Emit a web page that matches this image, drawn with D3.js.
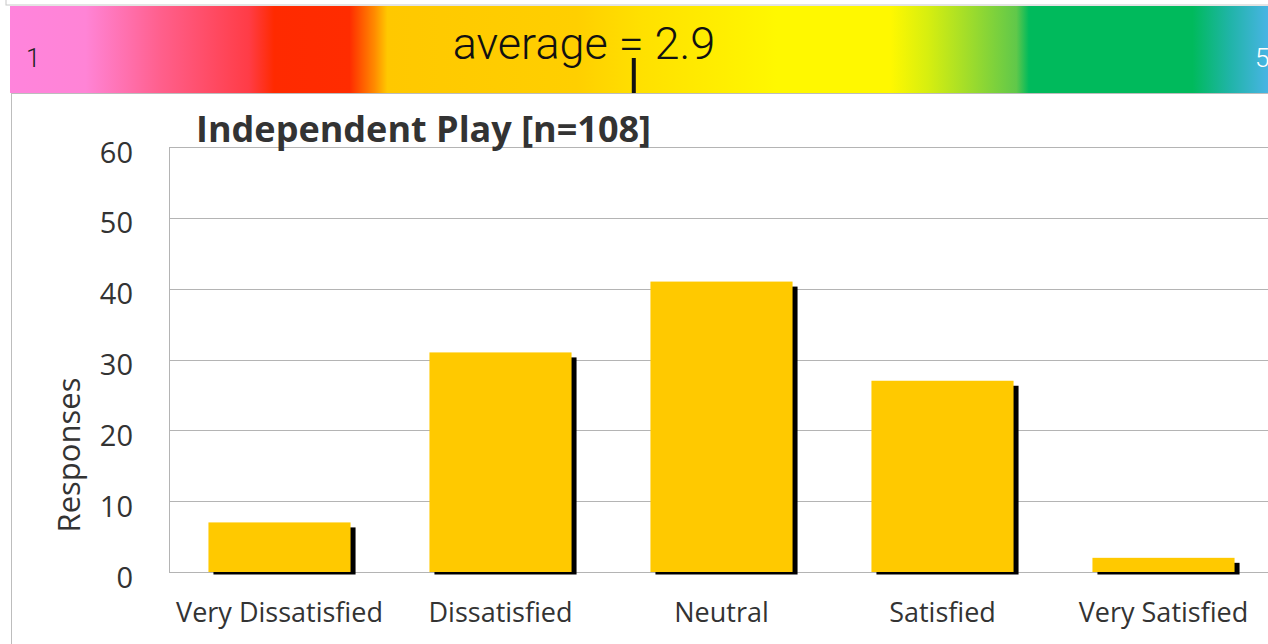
<!DOCTYPE html>
<html>
<head>
<meta charset="utf-8">
<script src="https://cdn.jsdelivr.net/npm/d3@7"></script>
<style>
  body { margin: 0; background: #fff; }
  svg { display: block; }
</style>
</head>
<body>
<script>
    let categories = ["Very Dissatisfied", "Dissatisfied", "Neutral", "Satisfied", "Very Satisfied"];
    let responses = [7, 31, 41, 27, 2];
    let yTicks = [0, 10, 20, 30, 40, 50, 60];
    let n = 108;
    let average = 2.9;
    let scaleEnds = [1, 5];
    let gradientStops = [
      [0.00, "#ff84dc"], [0.06, "#ff84d6"], [0.12, "#ff5f8c"], [0.19, "#ff3c46"],
      [0.21, "#ff2a00"], [0.27, "#ff2c00"], [0.29, "#ff8c00"], [0.30, "#ffc800"],
      [0.45, "#ffcf00"], [0.50, "#ffe000"], [0.61, "#fff800"], [0.70, "#fff800"],
      [0.73, "#d6ee10"], [0.80, "#60c84a"], [0.81, "#00ba5c"], [0.94, "#00ba5c"],
      [0.97, "#20b4a8"], [1.00, "#48b4e4"]
    ];

    let width = 1268, height = 644;
    let plot = {"left": 169, "top": 147, "bottom": 572, "right": 1274};

    const svg = d3.select("body")
      .append("svg")
      .attr("width", width)
      .attr("height", height);

    // top strip with colour scale
    svg.append("rect")
      .attr("x", 6).attr("y", -2)
      .attr("width", width).attr("height", 7)
      .attr("fill", "#fff")
      .attr("stroke", "#c8c8c8");

    let grad = svg.append("defs").append("linearGradient")
      .attr("id", "scaleGrad")
      .attr("x1", "0%").attr("x2", "100%");
    grad.selectAll("stop")
      .data(gradientStops)
      .enter()
      .append("stop")
      .attr("offset", (d) => d[0])
      .attr("stop-color", (d) => d[1]);

    svg.append("rect")
      .attr("x", 10).attr("y", 6)
      .attr("width", width - 10).attr("height", 87)
      .attr("fill", "url(#scaleGrad)");

    let scoreScale = d3.scaleLinear()
      .domain(scaleEnds)
      .range([60, 1268]);

    svg.append("text")
      .text(scaleEnds[0])
      .attr("x", 26).attr("y", 67)
      .style("font-family", "Roboto, sans-serif")
      .style("font-weight", 300)
      .style("font-size", 26)
      .attr("fill", "#222");

    svg.append("text")
      .text(scaleEnds[1])
      .attr("x", 1255).attr("y", 67)
      .style("font-family", "Roboto, sans-serif")
      .style("font-weight", 300)
      .style("font-size", 26)
      .attr("fill", "#fff");

    svg.append("text")
      .text("average = " + average)
      .attr("x", 584).attr("y", 59)
      .attr("text-anchor", "middle")
      .style("font-family", "Roboto, sans-serif")
      .style("font-weight", 300)
      .style("font-size", 45)
      .attr("fill", "#111");

    svg.append("line")
      .attr("x1", scoreScale(average)).attr("x2", scoreScale(average))
      .attr("y1", 58).attr("y2", 93)
      .attr("stroke", "#111")
      .attr("stroke-width", 4);

    // chart panel
    svg.append("rect")
      .attr("x", 11.5).attr("y", 93.5)
      .attr("width", width).attr("height", height)
      .attr("fill", "#fff")
      .attr("stroke", "#bdbdbd");

    let xscale = d3.scaleBand()
      .domain(categories)
      .range([plot.left, plot.right])
      .paddingInner(0.357)
      .paddingOuter(0.1785);

    let yscale = d3.scaleLinear()
      .domain([0, 60])
      .range([plot.bottom, plot.top]);

    // gridlines
    svg.append("g")
      .attr("transform", "translate(" + plot.left + ",0)")
      .call(d3.axisLeft(yscale).tickValues(yTicks).tickSize(-(plot.right - plot.left)).tickFormat(""))
      .call((g) => g.select(".domain").remove())
      .call((g) => g.selectAll("line").attr("stroke", "#b4b4b4").attr("shape-rendering", "crispEdges"));

    svg.append("line")
      .attr("x1", plot.left + 0.5).attr("x2", plot.left + 0.5)
      .attr("y1", plot.top).attr("y2", plot.bottom)
      .attr("stroke", "#b4b4b4");

    // shadows then bars
    svg.selectAll(".shadow")
      .data(responses)
      .enter()
      .append("rect")
      .attr("class", "shadow")
      .attr("x", (d, i) => xscale(categories[i]) + 5)
      .attr("y", (d) => yscale(d) + 5)
      .attr("width", xscale.bandwidth())
      .attr("height", (d) => plot.bottom + 2.5 - yscale(d) - 5)
      .attr("fill", "#000");

    svg.selectAll(".bar")
      .data(responses)
      .enter()
      .append("rect")
      .attr("class", "bar")
      .attr("x", (d, i) => xscale(categories[i]))
      .attr("y", (d) => yscale(d))
      .attr("width", xscale.bandwidth())
      .attr("height", (d) => plot.bottom - yscale(d))
      .attr("fill", "#ffc900");

    // y axis labels
    let y_axis = svg.append("g")
      .attr("transform", "translate(" + plot.left + ",0)")
      .call(d3.axisLeft(yscale).tickValues(yTicks).tickSize(0).tickPadding(36));
    y_axis.select(".domain").remove();
    y_axis.selectAll("text")
      .attr("dy", "0.52em")
      .style("font-family", "'Open Sans', sans-serif")
      .style("font-size", 29)
      .attr("fill", "#333");

    // x axis labels
    let x_axis = svg.append("g")
      .attr("transform", "translate(0," + plot.bottom + ")")
      .call(d3.axisBottom(xscale).tickSize(0).tickPadding(31));
    x_axis.select(".domain").remove();
    x_axis.selectAll("text")
      .style("font-family", "'Open Sans', sans-serif")
      .style("font-size", 27)
      .attr("fill", "#333");

    svg.append("text")
      .text("Responses")
      .attr("transform", "translate(80,455) rotate(-90)")
      .attr("text-anchor", "middle")
      .style("font-family", "'Open Sans', sans-serif")
      .style("font-size", 31)
      .attr("fill", "#333");

    svg.append("text")
      .text("Independent Play [n=" + n + "]")
      .attr("x", 196).attr("y", 142)
      .style("font-family", "'Open Sans', sans-serif")
      .style("font-weight", "bold")
      .style("font-size", 36)
      .attr("fill", "#333");
</script>
</body>
</html>
